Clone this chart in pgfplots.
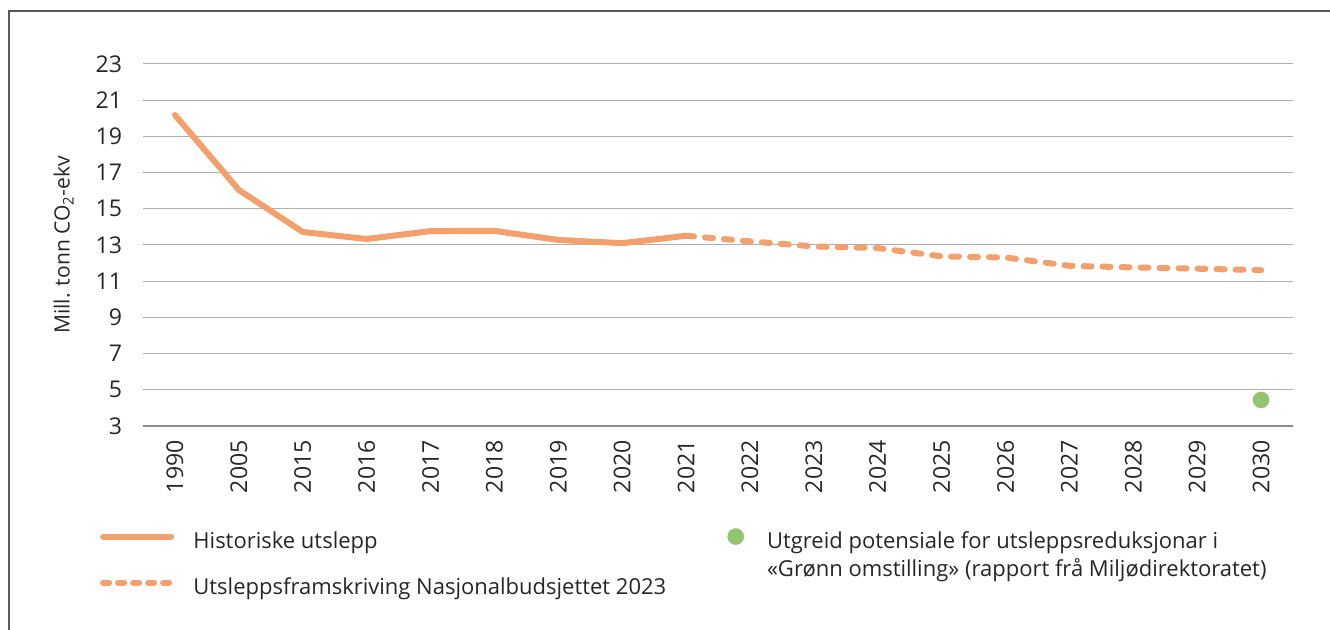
\documentclass[border=0pt]{standalone}
\usepackage{fontspec}
\setmainfont{Open Sans}
\usepackage{pgfplots}
\pgfplotsset{compat=1.18}
\definecolor{orng}{HTML}{F4A06C}
\definecolor{grn}{HTML}{92C56E}
\definecolor{grd}{HTML}{B0B0B0}
\definecolor{axl}{HTML}{8C8C8C}
\definecolor{txt}{HTML}{262626}
\definecolor{frm}{HTML}{5A5A5A}
\begin{document}
\begin{tikzpicture}
\useasboundingbox (0,0) rectangle (997.5pt,472.5pt);
\draw[frm, line width=1.5pt] (6.75pt,0pt) -- (6.75pt,464.25pt) -- (997.5pt,464.25pt);
\begin{axis}[
  at={(107.25pt,153pt)}, anchor=south west,
  scale only axis, width=862.5pt, height=271.5pt,
  xmin=-0.5, xmax=17.5, ymin=3, ymax=23,
  axis x line*=bottom, axis y line*=left,
  y axis line style={draw=none},
  x axis line style={draw=axl, line width=1pt, -},
  ymajorgrids, grid style={draw=grd, line width=0.75pt},
  major tick length=0pt,
  ytick={3,5,...,23},
  xtick={0,...,17},
  xticklabels={1990,2005,2015,2016,2017,2018,2019,2020,2021,2022,2023,2024,2025,2026,2027,2028,2029,2030},
  /pgf/number format/assume math mode=true,
  tick label style={font=\fontsize{17.3}{20}\selectfont, text=txt},
  y tick label style={anchor=east, inner sep=0pt, xshift=-15.5pt},
  x tick label style={yshift=-10.5pt, rotate=90, anchor=east, inner sep=0pt},
  ylabel={Mill. tonn CO\textsubscript{2}-ekv},
  ylabel style={at={(axis description cs:-0.0690,0.5)}, anchor=center, font=\fontsize{15.8}{19}\selectfont, text=txt},
  clip=false,
  legend columns=2,
  legend cell align=left,
  legend style={draw=none, fill=none, at={(axis description cs:-0.0410,-0.2745)}, anchor=north west,
    font=\fontsize{16.5}{21}\selectfont, text=txt,
    nodes={inner sep=0pt, text height=12pt, text depth=4pt},
    row sep=18.5pt,
    /tikz/every odd column/.append style={column sep=14.5pt}},
]
\addplot[orng, line width=4.5pt, line join=round, line cap=round,
  legend image code/.code={\draw[orng, line width=4.5pt, line cap=round] (2.25pt,5pt) -- (53.25pt,5pt);}]
  coordinates {(0,20.18)(1,16.04)(2,13.72)(3,13.33)(4,13.77)(5,13.78)(6,13.28)(7,13.1)(8,13.51)};
\addlegendentry{\makebox[400.5pt][l]{Historiske utslepp}}
\addplot[only marks, mark=*, mark size=6pt, color=grn, mark options={draw=grn, fill=grn},
  legend image code/.code={\path[draw=none, fill=none] (0pt,5pt) -- (15pt,5pt); \fill[grn] (6pt,5pt) circle (6pt);}]
  coordinates {(17,4.44)};
\addlegendentry{\smash{\parbox[t]{500pt}{Utgreid potensiale for utsleppsreduksjonar i\\«Grønn omstilling» (rapport frå Miljødirektoratet)}}}
\addplot[orng, line width=4.5pt, line cap=round, dash pattern=on 6pt off 8.25pt,
  legend image code/.code={\draw[orng, line width=4.5pt, line cap=round, dash pattern=on 4.5pt off 6.75pt] (2.25pt,5pt) -- (53.25pt,5pt);}]
  coordinates {(8,13.51)(9,13.2)(10,12.92)(11,12.83)(12,12.37)(13,12.31)(14,11.85)(15,11.76)(16,11.69)(17,11.61)};
\addlegendentry{Utsleppsframskriving Nasjonalbudsjettet 2023}
\end{axis}
\end{tikzpicture}
\end{document}
